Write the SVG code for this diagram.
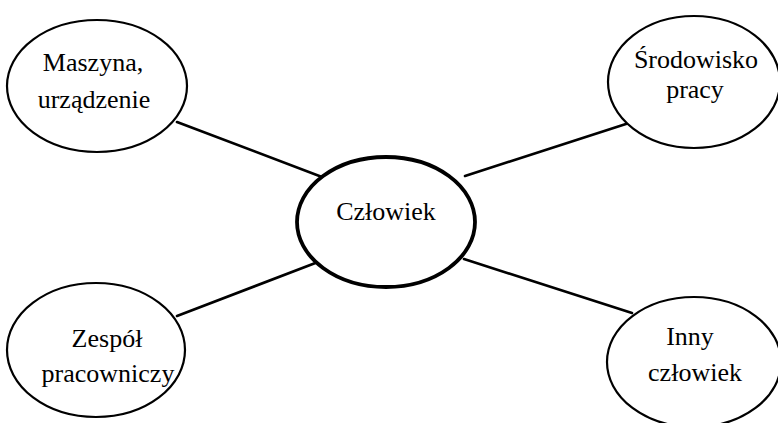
<svg xmlns="http://www.w3.org/2000/svg" width="778" height="423" viewBox="0 0 778 423">
<style>
.n{fill:#fff;stroke:#000;stroke-width:2.2}
.c{fill:#fff;stroke:#000;stroke-width:3.8}
.t{font-family:"Liberation Serif","Times New Roman",serif;font-size:26px;fill:#000;text-anchor:middle}
.e{stroke:#000;stroke-width:2.6;fill:none;stroke-linecap:round}
</style>
<rect width="778" height="423" fill="#fff"/>
<g id="connectors">
<line class="e" x1="177" y1="122" x2="322" y2="177"/>
<line class="e" x1="465" y1="176" x2="629" y2="123"/>
<line class="e" x1="177" y1="316" x2="318" y2="262"/>
<line class="e" x1="464" y1="259" x2="632" y2="313"/>
</g>
<g id="maszyna">
<ellipse class="n" cx="97" cy="86" rx="90" ry="66"/>
<text class="t" x="93" y="71">Maszyna,</text>
<text class="t" x="94" y="108">urządzenie</text>
</g>
<g id="srodowisko">
<ellipse class="n" cx="694" cy="82" rx="86" ry="66"/>
<text class="t" x="696" y="68">Środowisko</text>
<text class="t" x="695" y="98">pracy</text>
</g>
<g id="czlowiek">
<ellipse class="c" cx="386" cy="222" rx="89" ry="65"/>
<text class="t" x="386" y="220">Człowiek</text>
</g>
<g id="zespol">
<ellipse class="n" cx="96" cy="350" rx="89" ry="67"/>
<text class="t" x="107" y="347">Zespół</text>
<text class="t" x="108" y="382">pracowniczy</text>
</g>
<g id="inny">
<ellipse class="n" cx="694" cy="362" rx="87" ry="65"/>
<text class="t" x="690" y="345">Inny</text>
<text class="t" x="695" y="381">człowiek</text>
</g>
</svg>
